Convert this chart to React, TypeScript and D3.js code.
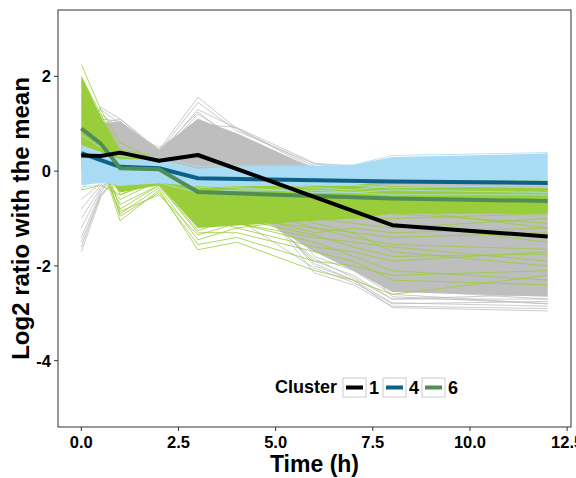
import React from "react";
import * as d3 from "d3";

// Time points (h)
const times = [0, 0.5, 1, 2, 3, 4, 6, 7, 8, 12];

// Dense core envelopes of each cluster (lower / upper) at each time point
const grayLo = [0.0, 0.1, 0.15, 0.0, -0.05, -0.7, -1.7, -2.1, -2.55, -2.65];
const grayHi = [0.8, 1.0, 1.05, 0.45, 1.1, 0.8, 0.05, -0.05, -0.1, -0.25];
const greenLo = [0.2, 0.0, -0.45, -0.3, -1.2, -1.15, -1.05, -1.0, -0.9, -0.9];
const greenHi = [2.0, 1.15, 0.4, 0.25, -0.15, -0.15, -0.25, -0.3, -0.32, -0.35];
const blueLo = [-0.3, -0.25, -0.3, -0.25, -0.32, -0.32, -0.3, -0.3, -0.2, -0.2];
const blueHi = [0.55, 0.4, 0.25, 0.25, 0.05, 0.1, 0.11, 0.13, 0.3, 0.37];

// Individual gene profiles (cluster 1: gray)
const grayLines = [
  [0.8, 1.3, 1.0, 0.45, 1.56, 0.9, 0.1, 0.0, -0.2, -0.5],
  [0.6, 1.35, 1.1, 0.4, 1.45, 0.85, 0.15, 0.05, -0.1, -0.4],
  [0.5, 1.1, 1.05, 0.35, 1.3, 0.9, 0.05, -0.1, -0.3, -0.7],
  [0.3, 0.9, 0.95, 0.3, 1.2, 0.7, -0.2, -0.4, -0.8, -1.2],
  [-1.7, -0.55, 0.0, 0.2, 0.6, 0.2, -1.0, -1.4, -1.8, -2.2],
  [-1.6, -0.5, -0.1, 0.1, 0.5, 0.0, -1.3, -1.7, -2.2, -2.5],
  [-1.4, -0.45, 0.1, 0.3, 0.8, 0.3, -0.8, -1.2, -1.6, -2.0],
  [-1.2, -0.4, 0.05, 0.25, 0.7, 0.1, -1.5, -1.9, -2.5, -2.7],
  [-1.0, -0.35, 0.0, 0.1, 0.4, -0.2, -2.0, -2.3, -2.88, -2.95],
  [-0.8, -0.3, 0.1, 0.2, 0.5, -0.1, -2.15, -2.4, -2.85, -2.9],
  [-0.6, -0.25, 0.2, 0.3, 0.9, 0.4, -1.8, -2.1, -2.6, -2.8],
  [-1.5, -0.5, -0.05, 0.15, 0.3, -0.4, -1.9, -2.2, -2.7, -2.6],
  [0.9, 1.2, 0.9, 0.5, 1.0, 0.92, 0.17, 0.1, 0.0, -0.3],
  [0.2, 0.7, 0.8, 0.2, 0.9, 0.5, -0.6, -0.9, -1.3, -1.8],
  [0.4, 0.8, 0.6, 0.1, 0.6, 0.2, -1.0, -1.2, -1.5, -1.6],
  [0.1, 0.5, 0.7, 0.3, 0.8, 0.6, -0.4, -0.7, -1.1, -1.4],
  [0.7, 1.0, 1.1, 0.45, 1.1, 0.7, -0.1, -0.3, -0.6, -1.0],
  [-0.2, 0.3, 0.5, 0.1, 0.2, -0.6, -1.7, -2.0, -2.4, -2.5],
  [0.0, 0.4, 0.3, -0.1, 0.1, -0.8, -1.4, -1.6, -2.0, -2.3],
  [0.5, 0.9, 1.0, 0.4, 1.25, 0.6, -0.5, -0.8, -1.2, -1.5],
  [-0.4, 0.1, 0.3, 0.0, 0.0, -1.0, -2.05, -2.35, -2.8, -2.75],
  [0.2, 0.6, 0.9, 0.35, 0.7, -0.3, -1.95, -2.3, -2.78, -2.85],
  [0.6, 0.9, 0.8, 0.3, 0.9, 0.3, -1.2, -1.8, -2.65, -2.8],
  [0.3, 0.7, 0.6, 0.2, 0.5, -0.5, -1.85, -2.25, -2.7, -2.7],
];

// Individual gene profiles (cluster 6: green)
const greenLines = [
  [2.25, 1.3, 0.6, 0.2, -0.2, -0.2, -0.3, -0.3, -0.2, -0.2],
  [2.0, 1.2, 0.45, 0.3, -0.1, -0.15, -0.25, -0.3, -0.3, -0.35],
  [1.8, 1.1, 0.3, 0.1, -0.3, -0.3, -0.5, -0.5, -0.6, -0.7],
  [0.5, 0.2, -1.05, -0.4, -1.66, -1.5, -2.1, -2.3, -2.6, -2.2],
  [0.6, 0.3, -0.95, -0.45, -1.55, -1.4, -1.9, -2.0, -2.2, -2.1],
  [0.7, 0.2, -0.9, -0.35, -1.45, -1.2, -1.6, -1.7, -1.9, -1.7],
  [0.4, 0.1, -0.85, -0.5, -1.35, -1.1, -1.4, -1.5, -1.6, -1.9],
  [0.9, 0.4, -0.8, -0.3, -1.25, -1.0, -1.2, -1.3, -1.4, -1.3],
  [-0.4, -0.3, -0.5, -0.2, -0.8, -0.8, -1.0, -1.1, -1.2, -1.0],
  [1.2, 0.8, 0.2, 0.0, -0.6, -0.6, -0.7, -0.8, -0.9, -1.1],
  [1.5, 0.9, -0.2, -0.1, -0.9, -0.7, -0.9, -0.9, -1.1, -1.5],
  [0.3, 0.0, -0.6, -0.2, -1.1, -0.9, -0.4, -0.3, -0.25, -0.15],
  [1.0, 0.6, -0.3, 0.05, -0.5, -0.4, -0.3, -0.2, -0.1, -0.1],
  [1.6, 1.0, 0.1, 0.2, -0.3, -0.5, -1.1, -1.3, -1.7, -2.0],
  [0.8, 0.5, -0.4, -0.25, -1.0, -1.1, -1.5, -1.8, -2.1, -2.3],
  [1.3, 0.7, 0.0, 0.1, -0.7, -0.9, -1.3, -1.2, -1.3, -1.2],
  [1.1, 0.6, -0.1, -0.05, -0.4, -0.6, -0.8, -1.0, -1.0, -0.9],
  [0.6, 0.4, -0.5, -0.15, -0.95, -1.2, -1.0, -0.7, -0.6, -0.5],
  [1.9, 1.15, 0.4, 0.2, -0.25, -0.35, -0.6, -0.7, -0.8, -1.2],
  [0.2, 0.05, -0.7, -0.3, -1.3, -1.3, -1.7, -1.9, -2.3, -2.4],
  [1.4, 0.85, 0.25, 0.15, -0.55, -0.7, -1.2, -1.4, -1.55, -1.65],
  [0.95, 0.55, -0.2, 0.0, -0.8, -1.0, -1.35, -1.6, -1.8, -1.75],
];

// Individual gene profiles (cluster 4: light blue)
const blueLines = [
  [0.76, 0.5, 0.3, 0.3, 0.1, 0.12, 0.13, 0.13, 0.33, 0.39],
  [-0.33, -0.3, -0.3, -0.25, -0.45, -0.4, -0.4, -0.45, -0.5, -0.5],
  [0.5, 0.4, 0.2, 0.2, 0.0, 0.0, 0.05, 0.1, 0.2, 0.3],
  [0.2, 0.1, 0.0, 0.1, -0.2, -0.2, -0.1, -0.1, 0.0, 0.1],
  [-0.1, -0.1, -0.15, -0.1, -0.35, -0.3, -0.3, -0.3, -0.35, -0.3],
  [0.4, 0.3, -0.1, 0.0, -0.1, -0.15, 0.0, 0.05, 0.25, 0.35],
  [0.0, 0.0, 0.1, 0.2, -0.25, -0.25, -0.2, -0.2, -0.1, 0.0],
  [-0.2, -0.2, -0.25, -0.2, -0.3, -0.35, -0.45, -0.45, -0.4, -0.45],
  [0.3, 0.2, 0.05, 0.15, -0.15, -0.2, -0.35, -0.4, -0.3, -0.35],
];

// Cluster mean profiles
const meanTimes = [0, 0.5, 1, 2, 3, 8, 12];
const mean1 = [0.33, 0.32, 0.39, 0.22, 0.34, -1.14, -1.38];
const mean4 = [0.38, 0.23, 0.09, 0.06, -0.15, -0.22, -0.25];
const mean6 = [0.9, 0.58, 0.06, 0.04, -0.44, -0.58, -0.63];

const clusterLabels = ["1", "4", "6"];
const clusterColors = ["#000000", "#0d6189", "#4f8f55"];
const xTicks = [0, 2.5, 5, 7.5, 10, 12.5];
const yTicks = [-4, -2, 0, 2];

const W = 576;
const H = 478;
const PL = 58;
const PR = 571;
const PT = 10;
const PB = 427;

const GRAY = "#bebebe";
const GREEN = "#9acd3a";
const LBLUE = "#a9dcf4";

export default function App() {
  const x = d3.scaleLinear().domain([-0.6, 12.6]).range([PL, PR]);
  const y = d3.scaleLinear().domain([-5.4, 3.4]).range([PB, PT]);

  const line = d3
    .line<number>()
    .x((_, i) => x(times[i]))
    .y((d) => y(d));
  const meanLine = d3
    .line<number>()
    .x((_, i) => x(meanTimes[i]))
    .y((d) => y(d));
  const band = (lo: number[], hi: number[]) =>
    d3
      .area<number>()
      .x((_, i) => x(times[i]))
      .y0((_, i) => y(lo[i]))
      .y1((_, i) => y(hi[i]))(lo) || "";

  const font = "'Liberation Sans', Arial, Helvetica, sans-serif";

  const legendKeysX = [343, 383, 422];
  const legendLabelX = [369, 409, 448];

  return (
    <svg
      width={W}
      height={H}
      style={{ position: "absolute", left: 0, top: 0, background: "#fff" }}
      fontFamily={font}
    >
      <rect x={0} y={0} width={W} height={H} fill="#fff" />
      <defs>
        <clipPath id="panel">
          <rect x={PL} y={PT} width={PR - PL} height={PB - PT} />
        </clipPath>
      </defs>
      <g clipPath="url(#panel)">
        {/* cluster 1 (gray) */}
        <path d={band(grayLo, grayHi)} fill={GRAY} />
        {grayLines.map((d, i) => (
          <path key={"g" + i} d={line(d) || ""} fill="none" stroke={GRAY} strokeWidth={0.8} />
        ))}
        {/* cluster 6 (green) */}
        <path d={band(greenLo, greenHi)} fill={GREEN} />
        {greenLines.map((d, i) => (
          <path key={"n" + i} d={line(d) || ""} fill="none" stroke={GREEN} strokeWidth={0.8} />
        ))}
        {/* cluster 4 (light blue) */}
        <path d={band(blueLo, blueHi)} fill={LBLUE} />
        {blueLines.map((d, i) => (
          <path key={"b" + i} d={line(d) || ""} fill="none" stroke={LBLUE} strokeWidth={0.8} />
        ))}
        {/* means */}
        <path d={meanLine(mean4) || ""} fill="none" stroke={clusterColors[1]} strokeWidth={4} strokeLinejoin="round" />
        <path d={meanLine(mean6) || ""} fill="none" stroke={clusterColors[2]} strokeWidth={4} strokeLinejoin="round" />
        <path d={meanLine(mean1) || ""} fill="none" stroke={clusterColors[0]} strokeWidth={4} strokeLinejoin="round" />
      </g>

      {/* panel border */}
      <rect x={PL} y={PT} width={PR - PL} height={PB - PT} fill="none" stroke="#333" strokeWidth={1} />

      {/* x axis */}
      {xTicks.map((t) => (
        <g key={"xt" + t}>
          <line x1={x(t)} x2={x(t)} y1={PB} y2={PB + 4} stroke="#333" strokeWidth={1} />
          <text x={x(t)} y={448} textAnchor="middle" fontSize={16.5} fontWeight="bold" fill="#000">
            {t.toFixed(1)}
          </text>
        </g>
      ))}
      {/* y axis */}
      {yTicks.map((t) => (
        <g key={"yt" + t}>
          <line x1={PL - 4} x2={PL} y1={y(t)} y2={y(t)} stroke="#333" strokeWidth={1} />
          <text x={51} y={y(t)} dy="0.36em" textAnchor="end" fontSize={16.5} fontWeight="bold" fill="#000">
            {t}
          </text>
        </g>
      ))}

      <text x={(PL + PR) / 2} y={472} textAnchor="middle" fontSize={23} fontWeight="bold" fill="#000">
        Time (h)
      </text>
      <text
        transform={`translate(29,${(PT + PB) / 2}) rotate(-90)`}
        textAnchor="middle"
        fontSize={24}
        fontWeight="bold"
        fill="#000"
      >
        Log2 ratio with the mean
      </text>

      {/* legend */}
      <text x={275} y={393} fontSize={18} fontWeight="bold" fill="#000">
        Cluster
      </text>
      {clusterLabels.map((lab, i) => (
        <g key={"lg" + lab}>
          <rect x={legendKeysX[i]} y={378} width={23} height={19} fill="#fff" stroke="#ccc" strokeWidth={1} />
          <line
            x1={legendKeysX[i] + 3}
            x2={legendKeysX[i] + 20}
            y1={387.5}
            y2={387.5}
            stroke={clusterColors[i]}
            strokeWidth={4}
          />
          <text x={legendLabelX[i]} y={394} fontSize={18} fontWeight="bold" fill="#000">
            {lab}
          </text>
        </g>
      ))}
    </svg>
  );
}
